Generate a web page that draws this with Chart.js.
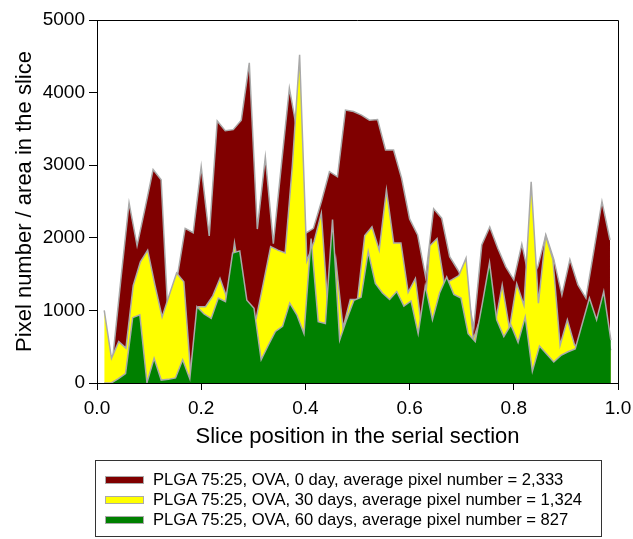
<!DOCTYPE html>
<html><head><meta charset="utf-8">
<script src="https://cdn.jsdelivr.net/npm/chart.js@4.4.1/dist/chart.umd.min.js"></script>
<style>
html,body{margin:0;padding:0;background:#fff;}
#wrap{position:relative;width:633px;height:539px;overflow:hidden;}
canvas{position:absolute;left:0;top:0;}
#legend{position:absolute;left:95px;top:460px;width:507px;height:77px;border:1px solid #333;box-sizing:border-box;font-family:"Liberation Sans",Arial,sans-serif;font-size:16.6px;color:#000;}
.row{position:absolute;left:0;height:19px;line-height:19px;white-space:nowrap;}
.sw{position:absolute;left:9px;top:6px;width:39px;height:8px;border:1px solid #aaa;box-sizing:border-box;}
.tx{position:absolute;left:57px;top:0;}
</style></head>
<body><div id="wrap"><canvas id="c" width="633" height="539"></canvas><div id="legend"></div></div>
<script>
// Tick labels
const xTicks = [0, 0.2, 0.4, 0.6, 0.8, 1.0];
const yTicks = [0, 1000, 2000, 3000, 4000, 5000];

// Series labels
const seriesLabels = [
  'PLGA 75:25, OVA, 0 day, average pixel number = 2,333',
  'PLGA 75:25, OVA, 30 days, average pixel number = 1,324',
  'PLGA 75:25, OVA, 60 days, average pixel number = 827'
];

// 0 day: 64 slices
const day0 = [350,380,1450,2480,1890,2410,2940,2800,600,1450,
  2130,2070,2980,2025,3610,3475,3490,3620,4410,2120,
  3110,1920,3000,4060,3450,2060,2130,2500,2910,2840,
  3760,3740,3690,3620,3630,3210,3210,2820,2260,2040,
  1460,2400,2270,1740,1560,1350,760,1900,2150,1855,
  1600,1420,1910,1400,1600,2040,1700,1210,1700,1350,
  1170,1830,2500,1970];

// 30 days: 71 slices
const day30 = [1000,340,570,480,1340,1670,1830,1350,910,1215,
  1515,1395,60,1050,1050,1200,1440,1160,1930,1300,
  950,890,1380,1880,1830,1790,3000,4520,1680,1950,
  2340,900,1700,760,1150,1150,2030,2150,1830,2660,
  1930,1930,1250,1440,650,1890,1990,1370,1420,1480,
  1720,600,900,1200,800,1350,750,1370,1070,2770,
  1100,2030,1705,520,870,520,520,700,600,800,
  450];

// 60 days: 72 slices
const day60 = [0,0,60,130,900,940,5,340,40,50,
  70,320,60,1050,950,890,1170,1120,1790,1820,
  1140,1030,320,520,710,780,1100,940,680,1990,
  845,820,2250,590,880,1140,1180,1810,1370,1240,
  1150,1260,1060,1130,680,1340,870,1240,1460,1220,
  1170,680,570,1100,1660,870,640,800,560,910,
  160,510,400,290,380,430,470,820,1170,870,
  1260,590];

const fillColors = ['#800000', '#ffff00', '#008000'];
const lineColor = '#a9a9a9';

// slice positions: evenly spaced through the serial section
function slicePoints(vals) {
  const n = vals.length + 1;
  return vals.map((v, i) => ({x: (i + 1) / n, y: v}));
}

Chart.defaults.font.family = '"Liberation Sans", Arial, sans-serif';
Chart.defaults.color = '#000';

const frame = {
  id: 'frame',
  afterDraw(chart) {
    const {ctx, chartArea: a} = chart;
    ctx.save();
    ctx.strokeStyle = '#000';
    ctx.lineWidth = 1;
    ctx.beginPath();
    ctx.moveTo(Math.round(a.left), Math.round(a.top) + 0.5);
    ctx.lineTo(Math.round(a.right) + 0.5, Math.round(a.top) + 0.5);
    ctx.lineTo(Math.round(a.right) + 0.5, Math.round(a.bottom));
    ctx.stroke();
    ctx.restore();
  }
};

const seriesData = [day0, day30, day60];
const datasets = seriesData.map((vals, k) => ({
  label: seriesLabels[k],
  data: slicePoints(vals),
  backgroundColor: fillColors[k],
  borderColor: lineColor,
  borderWidth: 1.5,
  pointRadius: 0,
  tension: 0,
  fill: 'origin',
  order: 3 - k
}));

new Chart(document.getElementById('c'), {
  type: 'line',
  data: {datasets},
  options: {
    responsive: false,
    animation: false,
    layout: {padding: {top: 20, right: 15, left: 0, bottom: 0}},
    plugins: {legend: {display: false}, tooltip: {enabled: false}},
    scales: {
      x: {
        type: 'linear', min: 0, max: 1,
        afterFit(s) { s.height = 156; s.paddingLeft = 0; s.paddingRight = 0; },
        afterBuildTicks(s) { s.ticks = xTicks.map(v => ({value: v})); },
        ticks: {font: {size: 19}, padding: 7, callback: v => v.toFixed(1), maxRotation: 0},
        grid: {display: true, drawOnChartArea: false, drawTicks: true, tickLength: 7, color: '#000'},
        border: {display: true, color: '#000', width: 1},
        title: {display: true, text: 'Slice position in the serial section', font: {size: 22}, padding: {top: 0, bottom: 89}}
      },
      y: {
        type: 'linear', min: 0, max: 5000,
        afterFit(s) { s.width = 97; s.paddingTop = 0; s.paddingBottom = 0; },
        afterBuildTicks(s) { s.ticks = yTicks.map(v => ({value: v})); },
        ticks: {font: {size: 19}, padding: 4, callback: v => String(v)},
        grid: {display: true, drawOnChartArea: false, drawTicks: true, tickLength: 8, color: '#000'},
        border: {display: true, color: '#000', width: 1},
        title: {display: true, text: 'Pixel number / area in the slice', font: {size: 22}, padding: {top: 12, bottom: 0}}
      }
    }
  },
  plugins: [frame]
});

// HTML legend
const lg = document.getElementById('legend');
seriesLabels.forEach((t, k) => {
  const r = document.createElement('div');
  r.className = 'row';
  r.style.top = (9 + k * 20) + 'px';
  const s = document.createElement('div');
  s.className = 'sw';
  s.style.background = fillColors[k];
  const tx = document.createElement('div');
  tx.className = 'tx';
  tx.textContent = t;
  r.appendChild(s); r.appendChild(tx);
  lg.appendChild(r);
});
</script>
</body></html>
